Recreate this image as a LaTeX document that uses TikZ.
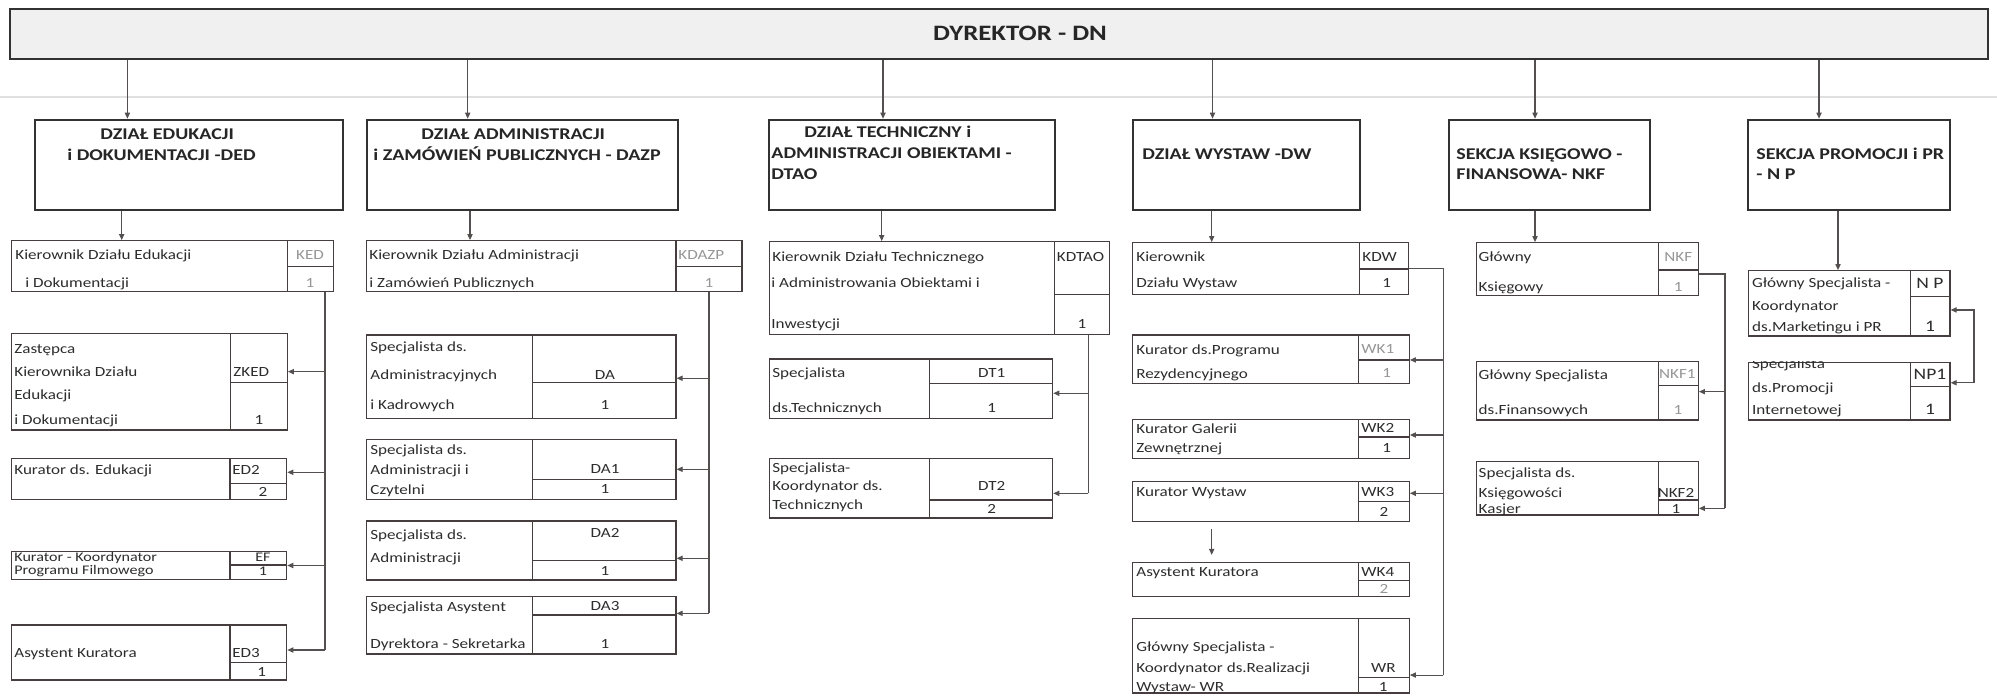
\documentclass[tikz,border=0pt]{standalone}
\usepackage{fontspec}
\setmainfont{Carlito}[FakeStretch=1.22]
\usetikzlibrary{arrows.meta,fit}
\definecolor{boxline}{RGB}{70,62,62}
\definecolor{conline}{RGB}{85,80,80}
\definecolor{txtc}{RGB}{45,45,45}
\definecolor{codegray}{RGB}{150,150,150}
\definecolor{topfill}{RGB}{240,240,240}
\definecolor{secline}{RGB}{50,50,50}
\newcommand\posbox[7]{%
  \node[pbox, fit={(#2,#3) (#4,#5)}] (#1) {};
  \draw[pline] (#6,#3) -- (#6,#5) (#6,#7) -- (#4,#7);}
\newcommand\ptext[4]{\node[txt] (#1) at (#2,#3+4.4) {#4};}
\newcommand\pcode[5][]{\node[code,#1] (#2) at (#3,#4+4.4) {#5};}
\newcommand\pcodel[5][]{\node[txt,#1] (#2) at (#3,#4+4.4) {#5};}
\newcommand\stext[4]{\node[sectxt] (#1) at (#2,#3+5.2) {#4};}
\begin{document}
\begin{tikzpicture}[x=0.5pt,y=-0.5pt,
  topbox/.style={draw=secline, line width=1.3pt, fill=topfill, inner sep=0pt},
  secbox/.style={draw=secline, line width=1.3pt, fill=white, inner sep=0pt},
  pbox/.style={draw=boxline, line width=0.6pt, inner sep=0pt},
  pline/.style={draw=boxline, line width=0.6pt},
  conn/.style={draw=conline, line width=0.55pt},
  arr/.style={conn, -{Triangle[length=3pt,width=2.6pt]}},
  arrs/.style={conn, {Triangle[length=3pt,width=2.6pt]}-{Triangle[length=3pt,width=2.6pt]}},
  txt/.style={anchor=base west, inner sep=0pt, text=txtc, font=\fontsize{7}{8}\selectfont},
  code/.style={txt, anchor=base},
  faded/.style={text=codegray},
  big/.style={font=\fontsize{8}{9}\selectfont},
  small/.style={font=\fontsize{6.6}{7}\selectfont},
  sectxt/.style={anchor=base west, inner sep=0pt, text=black!85, font=\bfseries\fontsize{8.2}{9}\selectfont},
]
\useasboundingbox (0,0) rectangle (1997,696);
\fill[white] (0,0) rectangle (1997,696);
\draw[black!12, line width=0.9pt] (0,97) -- (1997,97);

% director
\node[topbox, fit={(10,9) (1988,59)}] (top) {};
\node[text=black!85, font=\bfseries\fontsize{11}{13}\selectfont, inner sep=0pt] (dyr) at (1020,33) {DYREKTOR - DN};

% sections
\node[secbox, fit={(35,120) (343,210)}] (ded) {};
\node[secbox, fit={(367,120) (678,210)}] (dazp) {};
\node[secbox, fit={(769,120) (1055,210)}] (dtao) {};
\node[secbox, fit={(1133,120) (1360,210)}] (dw) {};
\node[secbox, fit={(1449,120) (1650,210)}] (nkfs) {};
\node[secbox, fit={(1748,120) (1950,210)}] (nps) {};
\stext{s1a}{100}{134}{DZIAŁ EDUKACJI}
\stext{s1b}{67}{155}{i DOKUMENTACJI -DED}
\stext{s2a}{421}{134}{DZIAŁ ADMINISTRACJI}
\stext{s2b}{373}{155}{i ZAMÓWIEŃ PUBLICZNYCH - DAZP}
\stext{s3a}{804}{132}{DZIAŁ TECHNICZNY i}
\stext{s3b}{771}{153}{ADMINISTRACJI OBIEKTAMI -}
\stext{s3c}{771}{174}{DTAO}
\stext{s4a}{1142}{154}{DZIAŁ WYSTAW -DW}
\stext{s5a}{1456}{154}{SEKCJA KSIĘGOWO -}
\stext{s5b}{1456}{174}{FINANSOWA- NKF}
\stext{s6a}{1756}{154}{SEKCJA PROMOCJI i PR}
\stext{s6b}{1756}{174}{- N P}

% connector x positions
\coordinate (dDED) at (127.4,0);
\coordinate (dDAZP) at (467.7,0);
\coordinate (dDTAO) at (883,0);
\coordinate (dDW) at (1212.5,0);
\coordinate (dNKF) at (1535,0);
\coordinate (dNP) at (1819,0);
\coordinate (lDED) at (121.7,0);
\coordinate (lDAZP) at (470,0);
\coordinate (lDTAO) at (881.7,0);
\coordinate (lDW) at (1211.7,0);
\coordinate (lNKF) at (1535,0);
\coordinate (lNP) at (1838,0);
\coordinate (tDED) at (325,0);
\coordinate (tDAZP) at (709,0);
\coordinate (tDTAO) at (1088.3,0);
\coordinate (tDW) at (1443.3,0);
\coordinate (tNKF) at (1725,0);
\coordinate (tNP) at (1974,0);

% column 1
\posbox{ked}{11.7}{240.7}{333.3}{291.7}{287.3}{266.7}
\ptext{ked1}{15}{255}{Kierownik Działu Edukacji}
\ptext{ked2}{25}{282.7}{i Dokumentacji}
\pcode[faded]{kedc}{310}{255}{KED}
\pcode[faded]{kedn}{310}{282.7}{1}
\posbox{zked}{11.7}{333.3}{287.3}{430}{230.7}{382.7}
\ptext{zk1}{14}{349.3}{Zastępca}
\ptext{zk2}{14}{371.7}{Kierownika Działu}
\ptext{zk3}{14}{395}{Edukacji}
\ptext{zk4}{14}{420}{i Dokumentacji}
\pcodel{zkc}{233}{371.7}{ZKED}
\pcode{zkn}{259}{420}{1}
\posbox{ed2}{11.7}{458.3}{286.7}{499.3}{230}{483.3}
\ptext{ed21}{14}{470}{Kurator ds. Edukacji}
\pcodel{ed2c}{232}{470}{ED2}
\pcode{ed2n}{263}{492}{2}
\posbox{ef}{11.7}{551.7}{286.7}{579.3}{230}{565}
\node[txt,small] (ef1) at (14,561.5) {Kurator - Koordynator};
\node[txt,small] (ef2) at (14,574.5) {Programu Filmowego};
\node[code,small] (efc) at (263,561) {EF};
\node[code,small] (efn) at (263,575.5) {1};
\posbox{ed3}{11.7}{625}{286.7}{680}{230}{662.7}
\ptext{ed31}{14}{653.3}{Asystent Kuratora}
\pcodel{ed3c}{232}{653.3}{ED3}
\pcode{ed3n}{261.7}{672.5}{1}

% column 2
\posbox{kdazp}{366.7}{240.7}{742}{291.7}{676}{266.7}
\ptext{kd1}{369}{255}{Kierownik Działu Administracji}
\ptext{kd2}{369}{282.7}{i Zamówień Publicznych}
\pcodel[faded]{kdc}{678}{255}{KDAZP}
\pcode[faded]{kdn}{709}{282.7}{1}
\posbox{da}{366.7}{335}{676}{418.3}{532.7}{382.7}
\ptext{da01}{370}{346.7}{Specjalista ds.}
\ptext{da02}{370}{375}{Administracyjnych}
\ptext{da03}{370}{405}{i Kadrowych}
\pcode{da0c}{605}{375}{DA}
\pcode{da0n}{605}{405}{1}
\posbox{da1}{366.7}{439.3}{676}{499.3}{532.7}{479.3}
\ptext{da11}{370}{450}{Specjalista ds.}
\ptext{da12}{370}{470}{Administracji i}
\ptext{da13}{370}{490}{Czytelni}
\pcode{da1c}{605}{469}{DA1}
\pcode{da1n}{605}{489.5}{1}
\posbox{da2}{366.7}{521}{676}{580}{532.7}{560.7}
\ptext{da21}{370}{535}{Specjalista ds.}
\ptext{da22}{370}{558.3}{Administracji}
\pcode{da2c}{605}{533.3}{DA2}
\pcode{da2n}{605}{570.7}{1}
\posbox{da3}{366.7}{596.7}{676}{654}{532.7}{615}
\ptext{da31}{370}{606.7}{Specjalista Asystent}
\ptext{da32}{370}{644}{Dyrektora - Sekretarka}
\pcode{da3c}{605}{606}{DA3}
\pcode{da3n}{605}{644}{1}

% column 3
\posbox{kdtao}{769.3}{241.7}{1109.3}{334.3}{1054.3}{294.3}
\ptext{kt1}{772}{257.3}{Kierownik Działu Technicznego}
\ptext{kt2}{771}{283.3}{i Administrowania Obiektami i}
\ptext{kt3}{771}{324}{Inwestycji}
\pcodel{ktc}{1056.5}{257.3}{KDTAO}
\pcode{ktn}{1082}{324}{1}
\posbox{dt1}{769.3}{359}{1052.7}{418.3}{929.3}{383.3}
\ptext{dt11}{772}{373.3}{Specjalista}
\ptext{dt12}{772}{408.3}{ds.Technicznych}
\pcode{dt1c}{991.7}{373.3}{DT1}
\pcode{dt1n}{991.7}{408.3}{1}
\posbox{dt2}{769.3}{458.3}{1052.7}{518}{929.3}{500}
\ptext{dt21}{772}{468.3}{Specjalista-}
\ptext{dt22}{772}{486}{Koordynator ds.}
\ptext{dt23}{772}{505}{Technicznych}
\pcode{dt2c}{991.7}{486}{DT2}
\pcode{dt2n}{991.7}{509}{2}

% column 4
\posbox{kdw}{1132.7}{242.7}{1408.3}{294.3}{1359.3}{269}
\ptext{kw1}{1136}{257.3}{Kierownik}
\ptext{kw2}{1136}{283.3}{Działu Wystaw}
\pcodel{kwc}{1362}{257.3}{KDW}
\pcode{kwn}{1386.7}{283.3}{1}
\posbox{wk1}{1132.7}{335}{1409.3}{383.3}{1358.3}{360}
\ptext{wk11}{1136}{350}{Kurator ds.Programu}
\ptext{wk12}{1136}{374}{Rezydencyjnego}
\pcodel[faded]{wk1c}{1361}{349}{WK1}
\pcode[faded]{wk1n}{1386.7}{373}{1}
\posbox{wk2}{1132.7}{419.3}{1409.3}{458.3}{1358.3}{437}
\ptext{wk21}{1136}{429.5}{Kurator Galerii}
\ptext{wk22}{1136}{448}{Zewnętrznej}
\pcodel{wk2c}{1361}{428.5}{WK2}
\pcode{wk2n}{1386.7}{448}{1}
\posbox{wk3}{1132.7}{481.7}{1409.3}{521.7}{1358.3}{501.7}
\ptext{wk31}{1136}{491.7}{Kurator Wystaw}
\pcodel{wk3c}{1361}{491.7}{WK3}
\pcode{wk3n}{1384}{511.7}{2}
\posbox{wk4}{1132.7}{562.7}{1409.3}{596.7}{1358.3}{580.7}
\ptext{wk41}{1136}{571.7}{Asystent Kuratora}
\pcodel{wk4c}{1361}{571.7}{WK4}
\pcode[faded]{wk4n}{1384}{589}{2}
\posbox{wr}{1132.7}{618.3}{1409.3}{693}{1358.3}{677.3}
\ptext{wr1}{1136}{646.7}{Główny Specjalista -}
\ptext{wr2}{1136}{668.3}{Koordynator ds.Realizacji}
\ptext{wr3}{1136}{687}{Wystaw- WR}
\pcode{wrc}{1383.3}{668.3}{WR}
\pcode{wrn}{1383.3}{687}{1}

% column 5
\posbox{nkf}{1476.7}{242.7}{1698.3}{295.7}{1658.3}{270}
\ptext{nk1}{1478.3}{257.3}{Główny}
\ptext{nk2}{1478.3}{286.7}{Księgowy}
\pcode[faded]{nkc}{1678.3}{257.3}{NKF}
\pcode[faded]{nkn}{1678.3}{286.7}{1}
\posbox{nkf1}{1476.7}{361.7}{1698.3}{420}{1658.3}{385.7}
\ptext{nk11}{1478.3}{375}{Główny Specjalista}
\ptext{nk12}{1478.3}{410}{ds.Finansowych}
\pcode[faded]{nk1c}{1677.3}{374}{NKF1}
\pcode[faded]{nk1n}{1678}{410}{1}
\posbox{nkf2}{1476.7}{461.7}{1698.3}{515}{1658.3}{500}
\ptext{nk21}{1478.3}{473.3}{Specjalista ds.}
\ptext{nk22}{1478.3}{492.7}{Księgowości}
\ptext{nk23}{1478.3}{509.3}{Kasjer}
\pcode{nk2c}{1676}{492.7}{NKF2}
\pcode{nk2n}{1676}{508.8}{1}

% column 6
\posbox{np}{1748.3}{270.7}{1950}{336}{1910.7}{296.7}
\ptext{np01}{1751.7}{283.3}{Główny Specjalista -}
\ptext{np02}{1751.7}{306}{Koordynator}
\ptext{np03}{1751.7}{326.7}{ds.Marketingu i PR}
\pcode[big]{np0c}{1930}{284}{N P}
\pcode[big]{np0n}{1930}{326.7}{1}
\posbox{np1}{1748.3}{362.3}{1950}{420}{1910.7}{386.7}
\begin{scope}
\clip (np1.north west) rectangle (1910.7,420);
\ptext{np11}{1751.7}{364}{Specjalista}
\end{scope}
\ptext{np12}{1751.7}{388.3}{ds.Promocji}
\ptext{np13}{1751.7}{410}{Internetowej}
\pcode[big]{np1c}{1930}{375}{NP1}
\pcode[big]{np1n}{1930}{410}{1}

% director to sections
\draw[arr] (top.south -| dDED) -- (ded.north -| dDED);
\draw[arr] (top.south -| dDAZP) -- (dazp.north -| dDAZP);
\draw[arr] (top.south -| dDTAO) -- (dtao.north -| dDTAO);
\draw[arr] (top.south -| dDW) -- (dw.north -| dDW);
\draw[arr] (top.south -| dNKF) -- (nkfs.north -| dNKF);
\draw[arr] (top.south -| dNP) -- (nps.north -| dNP);

% sections to heads
\draw[arr] (ded.south -| lDED) -- (ked.north -| lDED);
\draw[arr] (dazp.south -| lDAZP) -- (kdazp.north -| lDAZP);
\draw[arr] (dtao.south -| lDTAO) -- (kdtao.north -| lDTAO);
\draw[arr] (dw.south -| lDW) -- (kdw.north -| lDW);
\draw[arr] (nkfs.south -| lNKF) -- (nkf.north -| lNKF);
\draw[arr] (nps.south -| lNP) -- (np.north -| lNP);

% column 1 tree
\draw[conn] (ked.south -| tDED) -- ([yshift=1.25pt]ed3.east -| tDED);
\draw[arr] ([yshift=5pt]zked.east -| tDED) -- ([yshift=5pt]zked.east);
\draw[arr] ([yshift=3.25pt]ed2.east -| tDED) -- ([yshift=3.25pt]ed2.east);
\draw[arr] (ef.east -| tDED) -- (ef.east);
\draw[arr] ([yshift=1.25pt]ed3.east -| tDED) -- ([yshift=1.25pt]ed3.east);

% column 2 tree
\draw[conn] (kdazp.south -| tDAZP) -- ([yshift=6pt]da3.east -| tDAZP);
\draw[arr] ([yshift=-0.8pt]da.east -| tDAZP) -- ([yshift=-0.8pt]da.east);
\draw[arr] (da1.east -| tDAZP) -- (da1.east);
\draw[arr] ([yshift=-3.9pt]da2.east -| tDAZP) -- ([yshift=-3.9pt]da2.east);
\draw[arr] ([yshift=6pt]da3.east -| tDAZP) -- ([yshift=6pt]da3.east);

% column 3 tree
\draw[conn] (kdtao.south -| tDTAO) -- ([yshift=-2.6pt]dt2.east -| tDTAO);
\draw[arr] ([yshift=-2.3pt]dt1.east -| tDTAO) -- ([yshift=-2.3pt]dt1.east);
\draw[arr] ([yshift=-2.6pt]dt2.east -| tDTAO) -- ([yshift=-2.6pt]dt2.east);

% column 4 tree
\draw[conn] (kdw.east) -- (kdw.east -| tDW) -- ([yshift=-9.7pt]wr.east -| tDW);
\draw[arr] ([yshift=-0.4pt]wk1.east -| tDW) -- ([yshift=-0.4pt]wk1.east);
\draw[arr] ([yshift=1.9pt]wk2.east -| tDW) -- ([yshift=1.9pt]wk2.east);
\draw[arr] ([yshift=4.2pt]wk3.east -| tDW) -- ([yshift=4.2pt]wk3.east);
\draw[arr] ([yshift=-9.7pt]wr.east -| tDW) -- ([yshift=-9.7pt]wr.east);
\draw[arr] ([yshift=-3.3pt]wk3.south -| lDW) -- ([yshift=3.6pt]wk4.north -| lDW);

% column 5 tree
\draw[conn] ([yshift=-2.4pt]nkf.east) -- ([yshift=-2.4pt]nkf.east -| tNKF) -- ([yshift=-10pt]nkf2.east -| tNKF);
\draw[arr] ([yshift=-0.4pt]nkf1.east -| tNKF) -- ([yshift=-0.4pt]nkf1.east);
\draw[arr] ([yshift=-10pt]nkf2.east -| tNKF) -- ([yshift=-10pt]nkf2.east);

% column 6
\draw[arrs] ([yshift=-3.3pt]np.east) -- ([yshift=-3.3pt]np.east -| tNP) -- ([yshift=4.2pt]np1.east -| tNP) -- ([yshift=4.2pt]np1.east);
\end{tikzpicture}
\end{document}
